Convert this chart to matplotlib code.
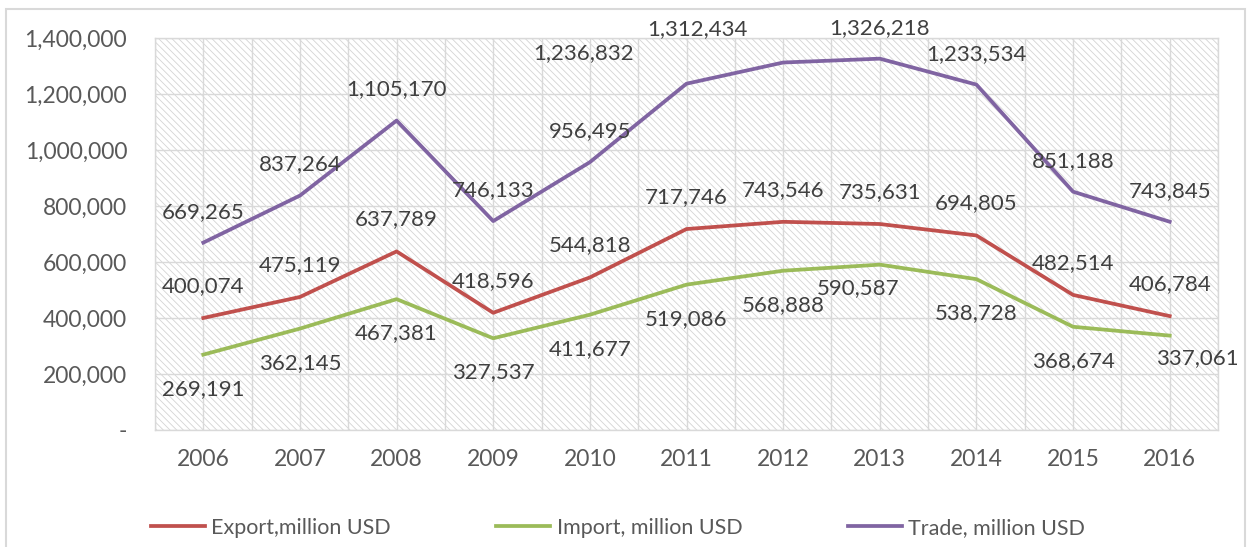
import matplotlib
matplotlib.use("Agg")
import matplotlib.pyplot as plt
from matplotlib.patches import Rectangle
from matplotlib.ticker import FuncFormatter, MultipleLocator

years = ["2006", "2007", "2008", "2009", "2010", "2011", "2012", "2013", "2014", "2015", "2016"]
export_vals = [400074, 475119, 637789, 418596, 544818, 717746, 743546, 735631, 694805, 482514, 406784]
import_vals = [269191, 362145, 467381, 327537, 411677, 519086, 568888, 590587, 538728, 368674, 337061]
trade_vals = [669265, 837264, 1105170, 746133, 956495, 1236832, 1312434, 1326218, 1233534, 851188, 743845]
series_names = ["Export,million USD", "Import, million USD", "Trade, million USD"]

# manually moved data labels in the original (pixel nudges: series index, point index)
label_nudges = {(2, 5): (-103, 0), (2, 6): (-86, 2), (1, 7): (-22, 11), (1, 10): (28, 12)}

plt.rcParams['font.family'] = ['Lato', 'DejaVu Sans']
plt.rcParams['hatch.linewidth'] = 0.6

W, H = 1249, 547
fig = plt.figure(figsize=(W / 100, H / 100), dpi=100)
fig.patch.set_facecolor('white')
# outer border
fig.patches.append(Rectangle((6 / W, -0.01), (1245 - 6) / W, (H - 9) / H + 0.01,
                             transform=fig.transFigure, fill=False,
                             edgecolor='#d9d9d9', linewidth=1.5))

L, R, T, B = 155, 1218, 38, 430
ax = fig.add_axes([L / W, (H - B) / H, (R - L) / W, (B - T) / H])
ax.set_facecolor('white')
ax.add_patch(Rectangle((0, 0), 1, 1, transform=ax.transAxes, facecolor='none',
                       edgecolor='#d4d4d4', hatch='\\\\\\\\\\', linewidth=0, zorder=0))

x = list(range(len(years)))
colors = ['#C0504D', '#9BBB59', '#8064A2']
data = [export_vals, import_vals, trade_vals]
offsets = [32, -34, 31]
lines = []
for si, (vals, c, name, off) in enumerate(zip(data, colors, series_names, offsets)):
    ln, = ax.plot(x, vals, color=c, linewidth=2.7, label=name, zorder=3,
                  solid_joinstyle='round')
    lines.append(ln)
    for xi, v in zip(x, vals):
        dx, dy = label_nudges.get((si, xi), (0, 0))
        ax.annotate(f"{v:,}", (xi, v), xytext=(dx, off + dy), textcoords='offset pixels',
                    ha='center', va='center', fontsize=16, color='#404040',
                    zorder=4, annotation_clip=False)

ax.set_xlim(-0.5, len(years) - 0.5)
ax.set_ylim(0, 1400000)
ax.yaxis.set_major_locator(MultipleLocator(200000))
ax.yaxis.set_major_formatter(FuncFormatter(lambda v, p: '-' if v == 0 else f"{int(v):,}"))
ax.set_xticks(x)
ax.set_xticklabels(years)
ax.set_xticks([i + 0.5 for i in range(-1, len(years))], minor=True)
ax.grid(True, which='major', axis='y', color='#d9d9d9', linewidth=1, zorder=1)
ax.grid(True, which='both', axis='x', color='#d9d9d9', linewidth=1, zorder=1)
ax.set_axisbelow(True)
ax.tick_params(axis='both', which='both', length=0, labelsize=16.5, colors='#595959')
ax.tick_params(axis='y', pad=20)
ax.tick_params(axis='x', pad=14)
for s in ax.spines.values():
    s.set_color('#d9d9d9')
    s.set_linewidth(1)

fig.legend(handles=lines, loc='center', bbox_to_anchor=(618 / W, 1 - 528 / H), ncol=3,
           frameon=False, fontsize=15.5, handlelength=2.5, handletextpad=0.3,
           columnspacing=4.9, labelcolor='#595959')

fig.savefig('out.png', dpi=100, facecolor='white')
